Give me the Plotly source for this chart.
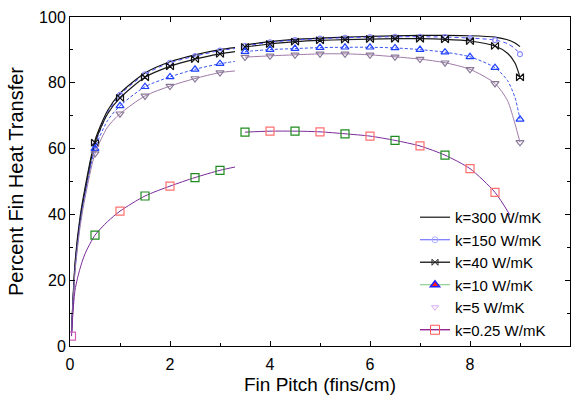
import plotly.graph_objects as go

# ---------------- data ----------------
x_left = [0.03, 0.1, 0.2, 0.3, 0.5, 0.75, 1.0, 1.5, 2.0, 2.5, 3.0, 3.3]
x_right = [3.5, 4.0, 4.5, 5.0, 5.5, 6.0, 6.5, 7.0, 7.5, 8.0, 8.5, 8.75, 8.9, 9.0]
x_right_low = [3.5, 4.0, 4.5, 5.0, 5.5, 6.0, 6.5, 7.0, 7.5, 8.0, 8.5, 8.8]

k300_left = [4, 25, 39, 48, 62.5, 71.5, 76.8, 83.0, 86.4, 88.5, 90.1, 90.7]
k300_right = [91.5, 92.5, 93.2, 93.6, 93.9, 94.1, 94.3, 94.4, 94.4, 94.3, 93.9, 93.1, 92.1, 91.0]

k150_left = [4, 24, 38, 47, 61.0, 70.8, 76.3, 82.6, 86.1, 88.1, 89.8, 90.4]
k150_right = [91.2, 92.3, 93.0, 93.4, 93.7, 93.9, 94.0, 94.0, 93.9, 93.6, 93.0, 91.9, 90.4, 88.7]

k40_left = [4, 24, 38, 47, 61.8, 70.5, 75.4, 81.7, 85.0, 87.2, 88.8, 89.5]
k40_right = [90.9, 91.8, 92.5, 92.9, 93.1, 93.3, 93.4, 93.4, 93.2, 92.7, 91.2, 89.0, 86.0, 81.7]

k10_left = [4, 23, 37, 46, 60.0, 68.5, 73.0, 78.8, 81.8, 84.1, 85.8, 86.5]
k10_right = [89.5, 90.1, 90.4, 90.7, 90.8, 90.8, 90.6, 90.1, 89.3, 87.9, 84.6, 80.7, 75.5, 68.9]

k5_left = [4, 22.5, 36, 45, 58.5, 66.5, 70.6, 76.0, 79.0, 81.3, 83.1, 83.6]
k5_right = [87.8, 88.2, 88.5, 88.8, 88.8, 88.5, 87.9, 87.2, 86.1, 84.1, 79.8, 74.6, 67.5, 61.9]

k025_left = [3, 17, 23.5, 28, 33.7, 37.8, 41.0, 45.6, 48.6, 51.2, 53.4, 54.4]
k025_right = [65.0, 65.3, 65.3, 65.1, 64.5, 63.8, 62.5, 60.8, 58.0, 53.9, 46.7, 39.8]

legend_labels = ["k=300 W/mK", "k=150 W/mK", "k=40 W/mK", "k=10 W/mK", "k=5 W/mK", "k=0.25 W/mK"]

x_ticks = [0, 2, 4, 6, 8, 10]
y_ticks = [0, 20, 40, 60, 80, 100]

# ---------------- style ----------------
FONT = "Liberation Sans, Arial, sans-serif"
SQUARE_COLORS = ["#d060c0", "#1f8a1f", "#ff6f6f", "#1f8a1f", "#ff6f6f", "#1f8a1f", "#1f8a1f",
                 "#1f8a1f", "#ff6f6f", "#1f8a1f", "#ff6f6f", "#1f8a1f", "#ff6f6f", "#1f8a1f",
                 "#ff6f6f", "#1f8a1f", "#ff6f6f", "#ff6f6f"]


def is_marker_x(v):
    return v >= 0.5 and abs(v * 2 - round(v * 2)) < 1e-6


fig = go.Figure()


def add_series(xl, yl, xr, yr, line_color, line_width, dash, symbol, mcolor, msize,
               first_marker=False, mcolors=None):
    xs = xl + [None] + xr
    ys = yl + [None] + yr
    fig.add_trace(go.Scatter(x=xs, y=ys, mode="lines", showlegend=False,
                             line=dict(color=line_color, width=line_width, dash=dash,
                                       shape="spline", smoothing=0.7),
                             connectgaps=False, hoverinfo="skip"))
    if symbol is None:
        return
    mx, my, cols = [], [], []
    for i, (a, b) in enumerate(zip(xl + xr, yl + yr)):
        if is_marker_x(a) or (first_marker and i == 0):
            mx.append(a)
            my.append(b)
            if mcolors is not None:
                cols.append(mcolors[len(cols) % len(mcolors)])
    fig.add_trace(go.Scatter(x=mx, y=my, mode="markers", showlegend=False,
                             marker=dict(symbol=symbol, size=msize,
                                         color=cols if mcolors else mcolor,
                                         line=dict(width=1.2)),
                             hoverinfo="skip"))


add_series(x_left, k300_left, x_right, k300_right, "#111111", 1.2, "solid", None, None, 0)
add_series(x_left, k150_left, x_right, k150_right, "#4a4aff", 1.0, "4px,3px",
           "circle-open", "#8a8aff", 5)
add_series(x_left, k40_left, x_right, k40_right, "#1a1a1a", 1.2, "solid",
           "bowtie-open", "#111111", 7)
add_series(x_left, k10_left, x_right, k10_right, "#3a55ee", 1.0, "3px,2px",
           "triangle-up-open", "#1f3fff", 7)
add_series(x_left, k5_left, x_right, k5_right, "#a07aa8", 1.0, "solid",
           "triangle-down-open", "#8a7a98", 7)
add_series(x_left, k025_left, x_right_low, k025_right, "#7a2a9a", 1.0, "solid",
           "square-open", "#ff6f6f", 8, first_marker=True, mcolors=SQUARE_COLORS)

# legend-only entries
legend_styles = [
    dict(mode="lines", line=dict(color="#444444", width=1.5)),
    dict(mode="lines+markers", line=dict(color="#5a5aff", width=1),
         marker=dict(symbol="circle-open", size=6, color="#b0b0ff")),
    dict(mode="lines+markers", line=dict(color="#333333", width=1.5),
         marker=dict(symbol="bowtie-open", size=6, color="#222222")),
    dict(mode="lines+markers", line=dict(color="#7cc47c", width=1),
         marker=dict(symbol="triangle-up", size=8, color="#ff2020",
                     line=dict(color="#2020ff", width=1.5))),
    dict(mode="markers", marker=dict(symbol="triangle-down-open", size=6, color="#d8a8f0")),
    dict(mode="lines+markers", line=dict(color="#800080", width=1.2),
         marker=dict(symbol="square-open", size=9, color="#ff5555")),
]
for name, st in zip(legend_labels, legend_styles):
    fig.add_trace(go.Scatter(x=[None], y=[None], name=name, showlegend=True, **st))

fig.update_layout(
    width=574, height=396,
    margin=dict(l=70, r=4, t=17, b=50),
    paper_bgcolor="white", plot_bgcolor="white",
    font=dict(family=FONT, color="#000000", size=16),
    legend=dict(x=0.69, xanchor="left", y=0.0, yanchor="bottom",
                bgcolor="rgba(0,0,0,0)", font=dict(size=15, family=FONT),
                tracegroupgap=0, itemwidth=30),
)
fig.update_xaxes(
    range=[0, 10], tickvals=x_ticks, ticktext=[str(v) for v in x_ticks],
    showline=True, linecolor="#000", linewidth=1, mirror="ticks",
    ticks="inside", ticklen=5, tickcolor="#000", showgrid=False, zeroline=False,
    minor=dict(dtick=1, ticks="inside", ticklen=3, tickcolor="#000", showgrid=False),
    tickfont=dict(size=16, family=FONT), ticklabelstandoff=4,
    title=dict(text="Fin Pitch (fins/cm)", font=dict(size=19, family=FONT), standoff=5),
)
fig.update_yaxes(
    range=[0, 100], tickvals=y_ticks, ticktext=[str(v) for v in y_ticks],
    showline=True, linecolor="#000", linewidth=1, mirror="ticks",
    ticks="inside", ticklen=5, tickcolor="#000", showgrid=False, zeroline=False,
    minor=dict(dtick=10, ticks="inside", ticklen=3, tickcolor="#000", showgrid=False),
    tickfont=dict(size=16, family=FONT),
    title=dict(text="Percent Fin Heat Transfer", font=dict(size=20, family=FONT), standoff=10),
)

fig.write_html("out.html")
